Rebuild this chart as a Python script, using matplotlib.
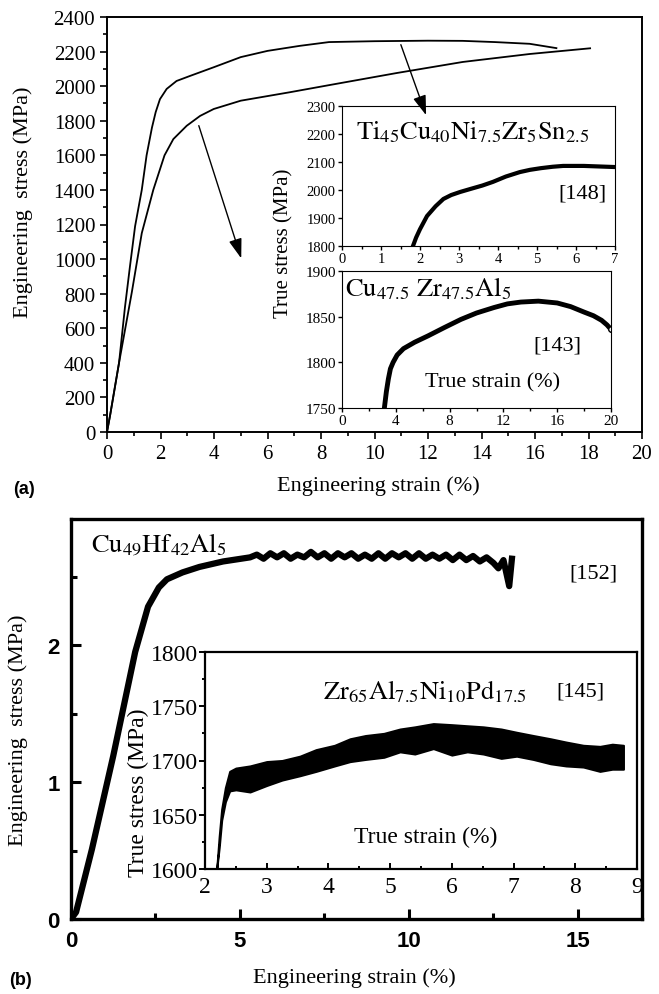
import matplotlib
matplotlib.use('Agg')
import matplotlib.pyplot as plt
from matplotlib.ticker import MultipleLocator

plt.rcParams['font.family'] = ['Liberation Serif', 'DejaVu Serif']
plt.rcParams['mathtext.fontset'] = 'stix'

# ---------------- data ----------------
# panel (a) main curves (engineering strain %, engineering stress MPa)
a1_strain = [0, 0.12, 0.45, 0.67, 0.86, 1.05, 1.3, 1.48, 1.68, 1.82, 1.98, 2.23, 2.6, 3.1, 4.0, 5.0, 6.0, 7.2, 8.3, 10.0, 12.0, 13.3, 14.5, 15.8, 16.8]
a1_stress = [0, 100, 400, 720, 960, 1190, 1400, 1600, 1760, 1850, 1925, 1984, 2030, 2059, 2110, 2168, 2204, 2233, 2255, 2260, 2263, 2262, 2255, 2245, 2220]
a2_strain = [0, 0.12, 0.45, 0.93, 1.3, 1.73, 2.15, 2.48, 2.98, 3.48, 3.99, 5.0, 6.84, 8.34, 10.83, 13.3, 15.8, 18.06]
a2_stress = [0, 100, 400, 810, 1150, 1400, 1600, 1694, 1771, 1828, 1868, 1916, 1965, 2007, 2076, 2140, 2186, 2219]

# inset 1: Ti45Cu40Ni7.5Zr5Sn2.5 (true strain %, true stress MPa)
ti_strain = [1.82, 1.9, 2.0, 2.18, 2.4, 2.6, 2.8, 3.03, 3.3, 3.6, 3.87, 4.2, 4.56, 4.82, 5.1, 5.4, 5.67, 6.2, 6.6, 7.0]
ti_stress = [1800, 1830, 1860, 1907, 1942, 1968, 1982, 1993, 2004, 2016, 2029, 2048, 2064, 2072, 2078, 2083, 2086, 2086, 2084, 2082]

# inset 2: Cu47.5Zr47.5Al5
cu_strain = [3.15, 3.3, 3.45, 3.6, 3.8, 4.1, 4.57, 5.4, 6.4, 7.6, 8.84, 10.0, 11.3, 12.3, 13.3, 14.6, 16.0, 17.0, 18.0, 18.7, 19.3, 19.7, 20.0]
cu_stress = [1750, 1768, 1782, 1793, 1800, 1808, 1815, 1822, 1829, 1838, 1847, 1854, 1860, 1864, 1866, 1867, 1865, 1861, 1855, 1851, 1846, 1841, 1836]

# panel (b) main: Cu49Hf42Al5
b_strain = [0, 0.15, 0.62, 1.25, 1.9, 2.28, 2.6, 2.84, 3.3, 3.8, 4.5,
            5.3, 5.5, 5.7, 5.9, 6.1, 6.3, 6.5, 6.7, 6.9, 7.1, 7.3, 7.5, 7.7, 7.9, 8.1, 8.3, 8.5, 8.7, 8.9,
            9.1, 9.3, 9.5, 9.7, 9.9, 10.1, 10.3, 10.5, 10.7, 10.9, 11.1, 11.3, 11.5, 11.7, 11.9, 12.1,
            12.3, 12.5, 12.65, 12.8, 12.97, 13.05]
b_stress = [0, 0.05, 0.51, 1.19, 1.95, 2.28, 2.42, 2.48, 2.53, 2.57, 2.61,
            2.64, 2.66, 2.63, 2.67, 2.64, 2.67, 2.63, 2.66, 2.64, 2.68, 2.64, 2.67, 2.63, 2.67, 2.64, 2.67, 2.63, 2.66, 2.63,
            2.67, 2.63, 2.67, 2.64, 2.67, 2.63, 2.67, 2.63, 2.66, 2.63, 2.66, 2.62, 2.66, 2.62, 2.65, 2.61,
            2.64, 2.60, 2.56, 2.62, 2.43, 2.63]

# panel (b) inset: Zr65Al7.5Ni10Pd17.5 serrated band (envelopes)
zr_strain = [2.19, 2.23, 2.27, 2.33, 2.40, 2.5, 2.73, 3.0, 3.25, 3.54, 3.8, 4.1, 4.35, 4.6, 4.9, 5.16, 5.4,
             5.7, 6.0, 6.25, 6.51, 6.8, 7.05, 7.32, 7.6, 7.85, 8.13, 8.4, 8.6, 8.78]
zr_upper = [1600, 1630, 1655, 1675, 1690, 1693, 1695, 1699, 1700, 1704, 1710, 1714, 1720, 1723, 1725, 1729, 1731,
            1734, 1733, 1732, 1731, 1729, 1726, 1723, 1720, 1717, 1714, 1713, 1715, 1714]
zr_lower = [1600, 1620, 1645, 1662, 1672, 1673, 1671, 1677, 1682, 1686, 1690, 1695, 1699, 1701, 1703, 1708, 1706,
            1711, 1705, 1708, 1706, 1702, 1704, 1701, 1697, 1695, 1694, 1690, 1692, 1692]

W, H = 659, 995


def rect(l, t, r, b):
    return [l / W, 1 - b / H, (r - l) / W, (b - t) / H]


def px(x, y):
    return (x / W, 1 - y / H)


fig = plt.figure(figsize=(W / 100, H / 100), dpi=100)

# ---------------- panel (a) ----------------
ax = fig.add_axes(rect(107, 18, 642, 433))
ax.plot(a1_strain, a1_stress, color='black', lw=1.3)
ax.plot(a2_strain, a2_stress, color='black', lw=1.3)
ax.set_xlim(0, 20)
ax.set_ylim(0, 2400)
ax.xaxis.set_major_locator(MultipleLocator(2))
ax.xaxis.set_minor_locator(MultipleLocator(1))
ax.yaxis.set_major_locator(MultipleLocator(200))
ax.yaxis.set_minor_locator(MultipleLocator(100))
ax.tick_params(which='both', direction='out', labelsize=15, width=1.2)
ax.tick_params(which='major', length=5)
ax.tick_params(which='minor', length=3)
for s in ax.spines.values():
    s.set_linewidth(1.4)
fig.text(*px(23, 202), 'Engineering  stress (MPa)', rotation=90, fontsize=16, ha='center', va='center')
fig.text(*px(378, 486), 'Engineering strain (%)', fontsize=16, ha='center', va='center')
fig.text(*px(24, 490), '(a)', fontsize=13, fontweight='bold', family='Liberation Sans', ha='center', va='center')

# arrow into lower region
ax.annotate('', xy=(5.05, 989), xytext=(3.4, 1787),
            arrowprops=dict(arrowstyle='-|>,head_length=1.2,head_width=0.4', color='black', lw=1.0))

# inset 1
ax1 = fig.add_axes(rect(342, 107, 615, 247))
ax1.plot(ti_strain, ti_stress, color='black', lw=3)
ax1.set_xlim(0, 7)
ax1.set_ylim(1800, 2300)
ax1.xaxis.set_major_locator(MultipleLocator(1))
ax1.xaxis.set_minor_locator(MultipleLocator(0.5))
ax1.yaxis.set_major_locator(MultipleLocator(100))
ax1.tick_params(which='both', direction='out', labelsize=10.5, pad=1.5, width=1)
ax1.tick_params(which='major', length=3)
ax1.tick_params(which='minor', length=2)
ax1.text(0.05, 0.82, r'$\mathrm{Ti_{45}Cu_{40}Ni_{7.5}Zr_{5}Sn_{2.5}}$', transform=ax1.transAxes,
         fontsize=19, ha='left', va='center')
ax1.text(0.88, 0.38, '[148]', transform=ax1.transAxes, fontsize=16, ha='center', va='center')
ax1.annotate('', xy=(2.18, 2258), xycoords=ax1.transData, xytext=(10.95, 2255), textcoords=ax.transData,
             annotation_clip=False,
             arrowprops=dict(arrowstyle='-|>,head_length=1.2,head_width=0.4', color='black', lw=1.0))

# inset 2
ax2 = fig.add_axes(rect(342, 272, 611, 409))
ax2.plot(cu_strain, cu_stress, color='black', lw=3.5)
ax2.plot(cu_strain[-1:], cu_stress[-1:], 'o', mfc='white', mec='black', ms=4)
ax2.set_xlim(0, 20)
ax2.set_ylim(1750, 1900)
ax2.xaxis.set_major_locator(MultipleLocator(4))
ax2.xaxis.set_minor_locator(MultipleLocator(2))
ax2.yaxis.set_major_locator(MultipleLocator(50))
ax2.tick_params(which='both', direction='out', labelsize=11, pad=1.5, width=1)
ax2.tick_params(which='major', length=3)
ax2.tick_params(which='minor', length=2)
ax2.text(0.01, 0.88, r'$\mathrm{Cu_{47.5}\ Zr_{47.5}Al_{5}}$', transform=ax2.transAxes,
         fontsize=19, ha='left', va='center')
ax2.text(0.8, 0.46, '[143]', transform=ax2.transAxes, fontsize=16, ha='center', va='center')
ax2.text(0.56, 0.19, 'True strain (%)', transform=ax2.transAxes, fontsize=16, ha='center', va='center')
fig.text(*px(284, 243), 'True stress (MPa)', rotation=90, fontsize=15, ha='center', va='center')

# ---------------- panel (b) ----------------
bx = fig.add_axes(rect(71, 520, 642, 920))
bx.plot(b_strain, b_stress, color='black', lw=4.5, solid_joinstyle='round')
bx.set_xlim(0, 16.9)
bx.set_ylim(0, 2.92)
bx.xaxis.set_major_locator(MultipleLocator(5))
bx.xaxis.set_minor_locator(MultipleLocator(2.5))
bx.yaxis.set_major_locator(MultipleLocator(1))
bx.yaxis.set_minor_locator(MultipleLocator(0.5))
bx.tick_params(which='both', direction='in', labelsize=16, width=2.2, pad=8)
bx.tick_params(which='major', length=7)
bx.tick_params(which='minor', length=4)
for lab in bx.get_xticklabels() + bx.get_yticklabels():
    lab.set_family('Liberation Sans')
    lab.set_fontweight('bold')
for s in bx.spines.values():
    s.set_linewidth(2.4)
bx.text(0.035, 0.94, r'$\mathrm{Cu_{49}Hf_{42}Al_{5}}$', transform=bx.transAxes, fontsize=19,
        ha='left', va='center')
bx.text(0.915, 0.865, '[152]', transform=bx.transAxes, fontsize=16, ha='center', va='center')
fig.text(*px(18, 730), 'Engineering  stress (MPa)', rotation=90, fontsize=16, ha='center', va='center')
fig.text(*px(354, 978), 'Engineering strain (%)', fontsize=16, ha='center', va='center')
fig.text(*px(20, 981), '(b)', fontsize=13, fontweight='bold', family='Liberation Sans', ha='center', va='center')

# inset (b)
bi = fig.add_axes(rect(205, 653, 637, 870))
bi.fill_between(zr_strain, zr_lower, zr_upper, color='black', lw=1.5, edgecolor='black')
bi.plot([2.0, zr_strain[0]], [1600, 1600], color='black', lw=2)
bi.set_xlim(2, 9)
bi.set_ylim(1600, 1800)
bi.xaxis.set_major_locator(MultipleLocator(1))
bi.xaxis.set_minor_locator(MultipleLocator(0.5))
bi.yaxis.set_major_locator(MultipleLocator(50))
bi.yaxis.set_minor_locator(MultipleLocator(25))
bi.tick_params(axis='x', which='both', direction='in', labelsize=17, pad=5, width=1.4)
bi.tick_params(axis='y', which='both', direction='out', labelsize=17, pad=1, width=1.4)
bi.tick_params(which='major', length=4)
bi.tick_params(which='minor', length=2.5)
for s in bi.spines.values():
    s.set_linewidth(1.6)
bi.text(0.51, 0.82, r'$\mathrm{Zr_{65}Al_{7.5}Ni_{10}Pd_{17.5}}$', transform=bi.transAxes, fontsize=19,
        ha='center', va='center')
bi.text(0.87, 0.82, '[145]', transform=bi.transAxes, fontsize=16, ha='center', va='center')
bi.text(0.51, 0.15, 'True strain (%)', transform=bi.transAxes, fontsize=17, ha='center', va='center')
fig.text(*px(138, 793), 'True stress (MPa)', rotation=90, fontsize=17, ha='center', va='center')

fig.savefig('out.png', dpi=100)
